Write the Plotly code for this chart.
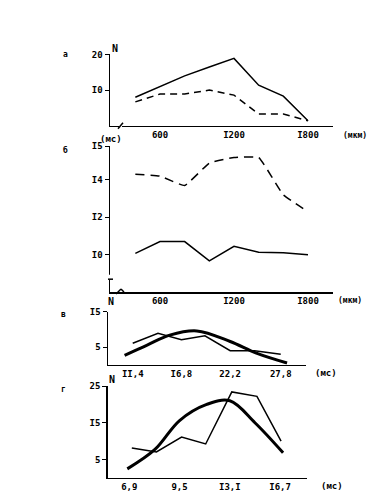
import plotly.graph_objects as go

W, H = 369, 493

# ---------------- data ----------------
# panel а : N vs size (мкм)
a_x = [400, 600, 800, 1000, 1200, 1400, 1600, 1800]
a_solid = [8.0, 11.1, 14.0, 16.5, 18.9, 11.4, 8.3, 1.4]
a_dashed = [6.7, 8.9, 8.9, 10.0, 8.6, 3.3, 3.3, 1.4]
# panel б : мс vs size (мкм)
b_x = [400, 600, 800, 1000, 1200, 1400, 1600, 1800]
b_dashed = [14.3, 14.2, 13.7, 14.9, 15.2, 15.2, 13.2, 12.3]
b_solid = [10.07, 10.7, 10.7, 9.67, 10.45, 10.13, 10.1, 10.0]
# panel в : N vs мс
c_x_thin = [11.4, 14.2, 16.8, 19.4, 22.2, 24.9, 27.8]
c_thin = [6.1, 8.9, 7.1, 8.2, 4.0, 4.0, 3.0]
c_x_thick = [10.5, 13.0, 15.5, 18.5, 22.2, 25.1, 28.5]
c_thick = [2.7, 5.6, 8.4, 9.6, 6.6, 3.3, 0.5]
# panel г : N vs мс (axis positions between labelled classes)
d_x_thin = [0.05, 0.54, 1.04, 1.52, 2.04, 2.54, 3.02]
d_thin = [8.1, 7.0, 11.1, 9.2, 23.4, 22.2, 10.0]
d_x_thick = [-0.04, 0.51, 1.0, 1.54, 2.0, 2.5, 3.06]
d_thick = [2.4, 7.7, 15.6, 20.0, 21.0, 15.0, 6.8]

ab_ticks = [600, 1200, 1800]
ab_ticktext = ["600", "I200", "I800"]
a_yticks = [10, 20]
a_yticktext = ["I0", "20"]
b_yticks = [10, 12, 14, 15.8]
b_yticktext = ["I0", "I2", "I4", "I5"]
c_ticks = [11.4, 16.8, 22.2, 27.8]
c_ticktext = ["II,4", "I6,8", "22,2", "27,8"]
c_yticks = [5, 15]
c_yticktext = ["5", "I5"]
d_ticks = [0, 1, 2, 3]
d_ticktext = ["6,9", "9,5", "I3,I", "I6,7"]
d_yticks = [5, 15, 25]
d_yticktext = ["5", "I5", "25"]

FONT = dict(family="DejaVu Sans Mono", size=9, color="black", weight="bold")

def px(x):
    return x / W

def py(y):
    return 1 - y / H

fig = go.Figure()

thin = dict(color="black", width=1.5)
thick = dict(color="black", width=3, shape="spline", smoothing=1.0)

fig.add_trace(go.Scatter(x=a_x, y=a_solid, mode="lines", line=thin, xaxis="x", yaxis="y"))
fig.add_trace(go.Scatter(x=a_x, y=a_dashed, mode="lines",
                         line=dict(color="black", width=1.5, dash="7px,5px"), xaxis="x", yaxis="y"))
fig.add_trace(go.Scatter(x=b_x, y=b_dashed, mode="lines",
                         line=dict(color="black", width=1.5, dash="9px,6px", shape="spline", smoothing=0.3),
                         xaxis="x2", yaxis="y2"))
fig.add_trace(go.Scatter(x=b_x, y=b_solid, mode="lines", line=thin, xaxis="x2", yaxis="y2"))
fig.add_trace(go.Scatter(x=c_x_thin, y=c_thin, mode="lines", line=thin, xaxis="x3", yaxis="y3"))
fig.add_trace(go.Scatter(x=c_x_thick, y=c_thick, mode="lines", line=thick, xaxis="x3", yaxis="y3"))
fig.add_trace(go.Scatter(x=d_x_thin, y=d_thin, mode="lines", line=thin, xaxis="x4", yaxis="y4"))
fig.add_trace(go.Scatter(x=d_x_thick, y=d_thick, mode="lines", line=thick, xaxis="x4", yaxis="y4"))

def xax(domain, rng, tv, tt, anchor):
    return dict(domain=domain, range=rng, tickvals=tv, ticktext=tt, anchor=anchor,
                showline=True, linecolor="black", linewidth=1.5, ticks="", showgrid=False,
                zeroline=False, tickfont=FONT, fixedrange=True)

def yax(domain, rng, tv, tt, anchor):
    return dict(domain=domain, range=rng, tickvals=tv, ticktext=tt, anchor=anchor,
                showline=True, linecolor="black", linewidth=1.5, ticks="outside", ticklen=4,
                tickcolor="black", showgrid=False, zeroline=False, tickfont=FONT, fixedrange=True)

fig.update_layout(
    width=W, height=H, margin=dict(l=0, r=0, t=0, b=0),
    paper_bgcolor="white", plot_bgcolor="white", showlegend=False,
    xaxis=xax([px(110), px(333)], [194.6, 2002.7], ab_ticks, ab_ticktext, "y"),
    yaxis=yax([py(122), py(50)], [0, 20], a_yticks, a_yticktext, "x"),
    xaxis2=xax([px(110), px(333)], [194.6, 2002.7], ab_ticks, ab_ticktext, "y2"),
    yaxis2=yax([py(290), py(142.7)], [8.0, 15.8], b_yticks, b_yticktext, "x2"),
    xaxis3=xax([px(108), px(306)], [8.66, 30.6], c_ticks, c_ticktext, "y3"),
    yaxis3=yax([py(363.5), py(310)], [0, 15], c_yticks, c_yticktext, "x3"),
    xaxis4=xax([px(107.7), px(306.7)], [-0.43, 3.53], d_ticks, d_ticktext, "y4"),
    yaxis4=yax([py(477.5), py(385)], [0, 25], d_yticks, d_yticktext, "x4"),
)

def ann(x, y, text, size=9, xanchor="center"):
    fig.add_annotation(x=px(x), y=py(y), xref="paper", yref="paper", text=text,
                       showarrow=False, xanchor=xanchor, yanchor="middle",
                       font=dict(family="DejaVu Sans Mono", size=size, color="black", weight="bold"))

for x, y, t in [(65, 50, "а"), (65, 146, "б"), (63, 313, "в"), (63, 388, "г")]:
    ann(x, y, t, size=8)
ann(115, 44, "N", size=10)
ann(111, 300, "N", size=10)
ann(112, 378, "N", size=10)
ann(111, 135, "(мс)")
ann(355, 132, "(мкм)", size=8)
ann(350, 299, "(мкм)", size=8)
ann(326, 372, "(мс)")
ann(332, 486, "(мс)")

# axis break marks
def seg(x0, y0, x1, y1, w=1.5, color="black"):
    fig.add_shape(type="line", xref="paper", yref="paper", x0=px(x0), y0=py(y0),
                  x1=px(x1), y1=py(y1), line=dict(color=color, width=w))

seg(119, 122, 122, 122, w=3, color="white")
seg(118, 125, 123, 119)
seg(110, 272.5, 110, 277.5, w=3, color="white")
seg(108, 277, 113, 277)
seg(116, 292, 121, 287)
seg(121, 287, 124, 290)

fig.write_html("out.html", config={"displayModeBar": False, "staticPlot": True},
               post_script="document.body.style.margin='0';document.body.style.overflow='hidden';")
